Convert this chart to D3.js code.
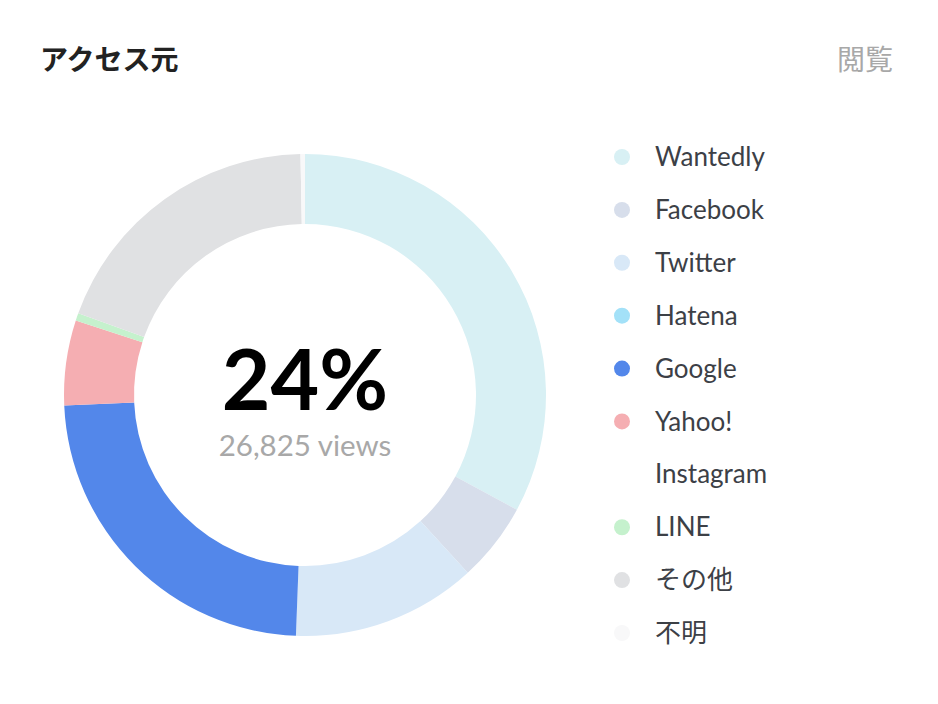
<!DOCTYPE html>
<html><head><meta charset="utf-8">
<script src="https://cdn.jsdelivr.net/npm/d3@7"></script>
<style>
html,body{margin:0;padding:0;background:#fff;}
svg{display:block;font-family:Lato,"Noto Sans CJK JP",sans-serif;}
</style></head>
<body>
<svg id="c" width="938" height="704"></svg>
<script>
const categories = ["Wantedly","Facebook","Twitter","Hatena","Google","Yahoo!","Instagram","LINE","その他","不明"];
const values = [32.9, 5.3, 12.4, 0, 23.7, 5.7, 0, 0.5, 19.2, 0.3];
const colors = ["#d8f0f4","#d7deeb","#d8e8f7","#a3e1f8","#5387ea","#f5aeb2","#ffffff","#c5f1cd","#e0e1e3","#f8f8f9"];
const title = "アクセス元";
const rightLabel = "閲覧";
const centerValue = "24%";
const centerSub = "26,825 views";

const svg = d3.select("#c");
const cx = 305, cy = 395, rOuter = 241, rInner = 171;

svg.append("text").attr("x", 40).attr("y", 70)
  .attr("font-size", 28).attr("font-weight", 700).attr("fill", "#222")
  .attr("font-family", "'Noto Sans CJK JP',sans-serif")
  .text(title);
svg.append("text").attr("x", 893).attr("y", 70).attr("text-anchor","end")
  .attr("font-size", 28).attr("fill", "#a8a8a8")
  .attr("font-family", "'Noto Sans CJK JP',sans-serif")
  .text(rightLabel);

const data = categories.map((c,i)=>({name:c, value:values[i], color:colors[i]}));
const pie = d3.pie().sort(null).value(d=>d.value).startAngle(0).endAngle(2*Math.PI);
const arc = d3.arc().innerRadius(rInner).outerRadius(rOuter);
const g = svg.append("g").attr("transform", `translate(${cx},${cy})`);
g.selectAll("path").data(pie(data)).join("path")
  .attr("d", arc).attr("fill", d=>d.data.color);

g.append("text").attr("x", 0).attr("y", 15).attr("text-anchor","middle")
  .attr("font-family","Lato,sans-serif").attr("font-weight",700)
  .attr("font-size", 84).attr("fill","#000").text(centerValue);
g.append("text").attr("x", 0).attr("y", 61).attr("text-anchor","middle")
  .attr("font-family","Lato,sans-serif")
  .attr("font-size", 29.5).attr("fill","#a8a8a8").text(centerSub);

const ly = d3.scalePoint().domain(categories).range([157, 633]);
const leg = svg.append("g");
const rows = leg.selectAll("g").data(data).join("g")
  .attr("transform", d=>`translate(0,${ly(d.name)})`);
rows.append("circle").attr("cx", 622).attr("cy", 0).attr("r", 8).attr("fill", d=>d.color);
rows.append("text").attr("x", 655).attr("y", 0).attr("dy", "0.35em")
  .attr("font-size", 26).attr("fill", "#3c4046")
  .attr("font-family", "Lato,'Noto Sans CJK JP',sans-serif")
  .text(d=>d.name);
</script>
</body></html>
